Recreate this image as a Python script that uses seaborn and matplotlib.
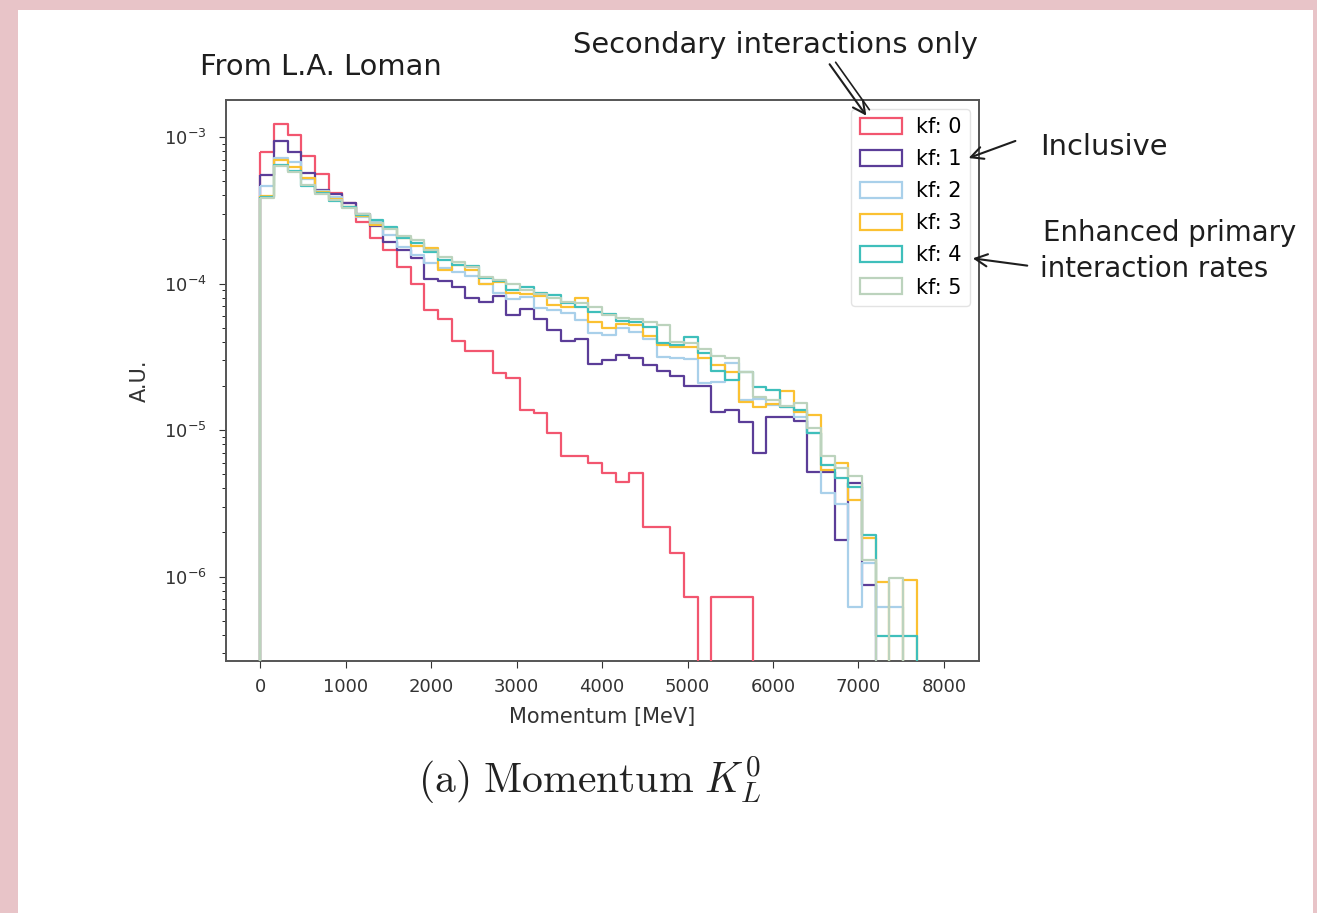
import numpy as np
import pandas as pd
import seaborn as sns
import matplotlib.pyplot as plt
from matplotlib.patches import Rectangle, FancyArrowPatch

# K_L^0 momentum histograms (A.U.), 50 bins of 160 MeV between 0 and 8000 MeV
bin_edges = list(np.linspace(0, 8000, 51))
kf_labels = ["kf: 0", "kf: 1", "kf: 2", "kf: 3", "kf: 4", "kf: 5"]

kf0 = [7.94e-4, 1.22e-3, 1.04e-3, 7.42e-4, 5.56e-4, 4.13e-4, 3.53e-4, 2.64e-4, 2.03e-4, 1.69e-4,
       1.30e-4, 1.00e-4, 6.59e-5, 5.69e-5, 4.07e-5, 3.46e-5, 3.46e-5, 2.46e-5, 2.25e-5, 1.38e-5,
       1.30e-5, 9.5e-6, 6.65e-6, 6.65e-6, 5.93e-6, 5.11e-6, 4.40e-6, 5.11e-6, 2.19e-6, 2.19e-6,
       1.45e-6, 7.28e-7, 0, 7.28e-7, 7.28e-7, 7.28e-7, 0, 0, 0, 0,
       0, 0, 0, 0, 0, 0, 0, 0, 0, 0]
kf1 = [5.53e-4, 9.35e-4, 7.94e-4, 5.70e-4, 4.38e-4, 4.09e-4, 3.53e-4, 2.98e-4, 2.46e-4, 1.93e-4,
       1.69e-4, 1.50e-4, 1.07e-4, 1.04e-4, 9.47e-5, 8.02e-5, 7.48e-5, 8.17e-5, 6.09e-5, 6.75e-5,
       5.73e-5, 4.78e-5, 4.07e-5, 4.15e-5, 2.82e-5, 3.01e-5, 3.25e-5, 3.11e-5, 2.78e-5, 2.54e-5,
       2.32e-5, 2.00e-5, 1.99e-5, 1.32e-5, 1.38e-5, 1.14e-5, 6.97e-6, 1.22e-5, 1.22e-5, 1.16e-5,
       5.19e-6, 5.19e-6, 1.77e-6, 4.33e-6, 8.75e-7, 0, 0, 0, 0, 0]
kf2 = [4.63e-4, 7.19e-4, 6.75e-4, 5.17e-4, 4.28e-4, 3.89e-4, 3.34e-4, 2.86e-4, 2.63e-4, 2.14e-4,
       1.78e-4, 1.57e-4, 1.38e-4, 1.27e-4, 1.20e-4, 1.12e-4, 1.00e-4, 8.65e-5, 7.80e-5, 8.13e-5,
       6.78e-5, 6.59e-5, 6.26e-5, 5.64e-5, 4.57e-5, 4.45e-5, 4.94e-5, 4.69e-5, 4.20e-5, 3.13e-5,
       3.08e-5, 3.04e-5, 2.10e-5, 2.13e-5, 2.85e-5, 1.60e-5, 1.64e-5, 1.48e-5, 1.44e-5, 1.23e-5,
       9.50e-6, 3.70e-6, 3.13e-6, 6.22e-7, 1.23e-6, 6.22e-7, 6.22e-7, 0, 0, 0]
kf3 = [3.96e-4, 6.97e-4, 6.24e-4, 5.25e-4, 4.21e-4, 3.77e-4, 3.33e-4, 2.89e-4, 2.51e-4, 2.39e-4,
       2.04e-4, 1.80e-4, 1.74e-4, 1.24e-4, 1.34e-4, 1.24e-4, 9.92e-5, 1.02e-4, 8.57e-5, 8.48e-5,
       8.22e-5, 7.13e-5, 6.88e-5, 7.92e-5, 5.48e-5, 4.94e-5, 5.29e-5, 5.21e-5, 4.38e-5, 3.80e-5,
       3.70e-5, 3.70e-5, 3.09e-5, 2.78e-5, 2.49e-5, 1.56e-5, 1.43e-5, 1.50e-5, 1.85e-5, 1.33e-5,
       1.27e-5, 5.33e-6, 5.93e-6, 3.33e-6, 1.82e-6, 9.2e-7, 0, 9.5e-7, 0, 0]
kf4 = [3.90e-4, 6.44e-4, 5.86e-4, 4.63e-4, 4.15e-4, 3.66e-4, 3.33e-4, 2.94e-4, 2.71e-4, 2.43e-4,
       2.04e-4, 1.89e-4, 1.65e-4, 1.45e-4, 1.34e-4, 1.32e-4, 1.09e-4, 1.04e-4, 9.03e-5, 9.51e-5,
       8.57e-5, 8.35e-5, 7.32e-5, 6.94e-5, 6.42e-5, 6.19e-5, 5.57e-5, 5.48e-5, 5.07e-5, 3.91e-5,
       3.80e-5, 4.29e-5, 3.38e-5, 2.53e-5, 2.20e-5, 2.49e-5, 1.98e-5, 1.87e-5, 1.43e-5, 1.37e-5,
       9.50e-6, 5.77e-6, 4.68e-6, 4.10e-6, 1.92e-6, 3.9e-7, 3.9e-7, 3.9e-7, 0, 0]
kf5 = [3.83e-4, 6.34e-4, 5.77e-4, 4.70e-4, 4.08e-4, 3.72e-4, 3.28e-4, 2.98e-4, 2.59e-4, 2.36e-4,
       2.11e-4, 1.98e-4, 1.69e-4, 1.52e-4, 1.40e-4, 1.30e-4, 1.10e-4, 1.06e-4, 9.92e-5, 9.03e-5,
       8.48e-5, 7.92e-5, 7.51e-5, 7.32e-5, 6.88e-5, 6.10e-5, 5.79e-5, 5.70e-5, 5.48e-5, 5.21e-5,
       4.01e-5, 3.91e-5, 3.60e-5, 3.20e-5, 3.09e-5, 2.50e-5, 1.69e-5, 1.60e-5, 1.46e-5, 1.52e-5,
       1.03e-5, 6.65e-6, 5.48e-6, 4.85e-6, 1.30e-6, 0, 9.7e-7, 0, 0, 0]

palette = ["#f2566f", "#5b3d98", "#a9d0ea", "#fbc132", "#3fbfbb", "#bcd3bd"]

# long table: one row per bin, weighted by the bin content
centers = (np.array(bin_edges[:-1]) + np.array(bin_edges[1:])) / 2
series = [kf0, kf1, kf2, kf3, kf4, kf5]
df = pd.concat(
    [pd.DataFrame({"momentum": centers, "au": vals, "kf": lab}) for lab, vals in zip(kf_labels, series)],
    ignore_index=True,
)

W, H = 1317, 913
fig = plt.figure(figsize=(W / 100, H / 100), dpi=100)
fig.patch.set_facecolor("#e8c4c8")
fig.add_artist(Rectangle((18 / W, 0), (1313 - 18) / W, 1 - 10 / H, transform=fig.transFigure,
                         facecolor="white", edgecolor="none", zorder=-1))

ax = fig.add_axes([226 / W, 1 - 661 / H, (979 - 226) / W, (661 - 100) / H])

sns.histplot(
    data=df, x="momentum", weights="au", hue="kf", hue_order=kf_labels,
    palette=palette, bins=bin_edges, element="step", fill=True,
    facecolor="none", linewidth=1.6, ax=ax,
)

# seaborn draws the last level first; put kf: 5 on top like a plain loop would
for i, coll in enumerate(ax.collections):
    coll.set_zorder(10 - i)

ax.set_yscale("log")
ax.set_xlim(-400, 8410)
ax.set_ylim(2.65e-7, 1.79e-3)
ax.set_xticks(np.arange(0, 8001, 1000))
ax.set_xlabel("Momentum [MeV]", fontsize=15, color="#333333", labelpad=8)
ax.set_ylabel("A.U.", fontsize=15, color="#333333", labelpad=10)
ax.tick_params(labelsize=13, colors="#333333", length=5)
ax.tick_params(axis="y", pad=9)
ax.tick_params(axis="x", pad=7)
ax.tick_params(which="minor", length=3)
for sp in ax.spines.values():
    sp.set_color("#555555")
    sp.set_linewidth(1.4)

sns.move_legend(ax, "upper right", title=None, fontsize=15, handlelength=2.05,
                handleheight=0.77, labelspacing=0.58, handletextpad=0.68,
                borderaxespad=0.42, frameon=True)
ax.get_legend().get_frame().set_edgecolor("#dddddd")

# annotations around the figure
hand = dict(fontsize=20.8, color="#1e1e1e", family="DejaVu Sans")
fig.text(200 / W, 1 - 67 / H, "From L.A. Loman", ha="left", va="center", **hand)
fig.text(573 / W, 1 - 45 / H, "Secondary interactions only", ha="left", va="center", **hand)
fig.text(1040 / W, 1 - 147 / H, "Inclusive", ha="left", va="center", **hand)
fig.text(1043 / W, 1 - 233 / H, "Enhanced primary", ha="left", va="center",
         **{**hand, "fontsize": 19.8})
fig.text(1040 / W, 1 - 269 / H, "interaction rates", ha="left", va="center",
         **{**hand, "fontsize": 19.8})

arrows = [((828, 62), (868, 118)), ((1018, 140), (966, 159)), ((1030, 266), (970, 258))]
for (x0, y0), (x1, y1) in arrows:
    fig.add_artist(FancyArrowPatch((x0 / W, 1 - y0 / H), (x1 / W, 1 - y1 / H),
                                   transform=fig.transFigure, arrowstyle="->",
                                   mutation_scale=22, lw=1.5, color="#1e1e1e"))
fig.add_artist(FancyArrowPatch((834 / W, 1 - 60 / H), (871 / W, 1 - 112 / H),
                               transform=fig.transFigure, arrowstyle="-",
                               lw=1.2, color="#1e1e1e"))

fig.text(590 / W, 1 - 780 / H, r"$\mathrm{(a)\ Momentum}\ K_L^0$", ha="center", va="center",
         fontsize=30, math_fontfamily="cm", color="#222222")

fig.savefig("out.png", dpi=100, facecolor=fig.get_facecolor())
